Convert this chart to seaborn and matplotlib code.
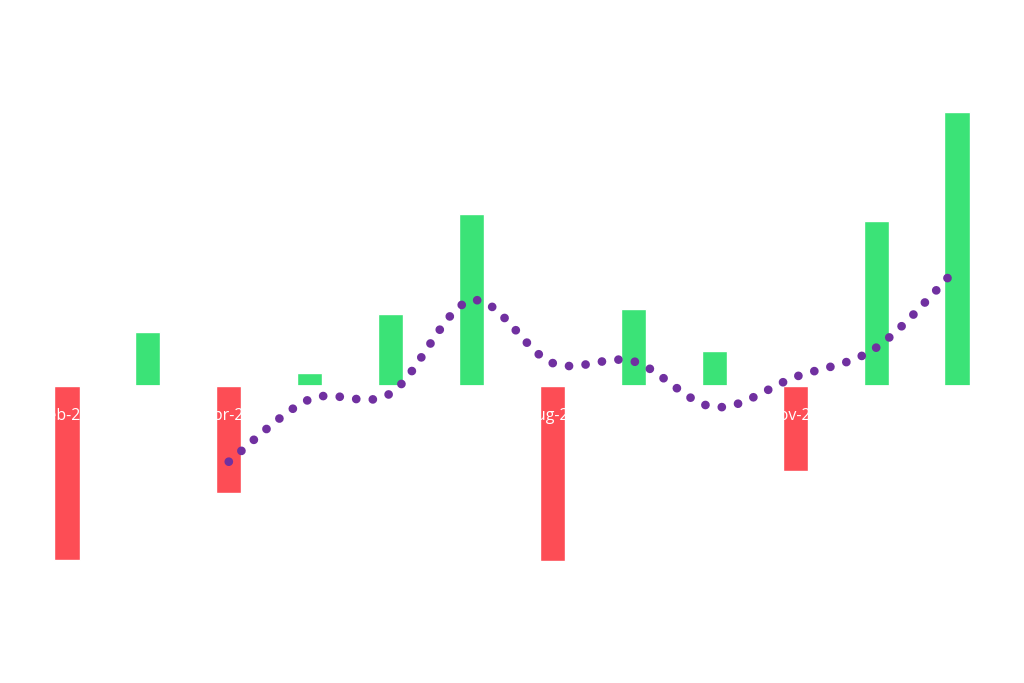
import numpy as np
import pandas as pd
import matplotlib
matplotlib.use("Agg")
import matplotlib.pyplot as plt
from matplotlib.path import Path
from matplotlib.patches import PathPatch
import seaborn as sns

# ---- data ----
months = ["feb-23", "mar-23", "apr-23", "may-23", "jun-23", "jul-23",
          "aug-23", "sep-23", "oct-23", "nov-23", "dec-23", "jan-24"]
values = [-174, 54, -107, 13, 72, 172, -175, 77, 35, -85, 165, 274]
# 3-month moving average (trend line), starting at apr-23
trend_months = months[2:]
trend_values = [-75.7, -13.3, -7.3, 85.7, 23.0, 24.7, -21.0, 9.0, 38.3, 118.0]

POS_COLOR = "#3be377"
NEG_COLOR = "#fd4d55"
LINE_COLOR = "#7030a0"

df = pd.DataFrame({"month": months, "value": values})
df["sign"] = np.where(df["value"] >= 0, "pos", "neg")

sns.set_theme(style="white")
plt.rcParams["font.family"] = ["Open Sans", "DejaVu Sans"]

fig = plt.figure(figsize=(10.24, 6.83), dpi=100)
ax = fig.add_axes([26.5 / 1024, (683 - 636) / 683, 971 / 1024, 580 / 683])

sns.barplot(data=df, x="month", y="value", hue="sign",
            palette={"pos": POS_COLOR, "neg": NEG_COLOR}, saturation=1,
            dodge=False, width=0.31, legend=False, ax=ax, zorder=1)

ax.set_xlim(-0.5, len(months) - 0.5)
ax.set_ylim(-250, 330)

# smoothed trend line (Catmull-Rom -> cubic Bezier) through the trend points
xs = [months.index(m) for m in trend_months]
pts = np.column_stack([xs, trend_values]).astype(float)
n = len(pts)
verts = [pts[0]]
codes = [Path.MOVETO]
for i in range(n - 1):
    p0 = pts[i - 1] if i > 0 else pts[i]
    p1 = pts[i]
    p2 = pts[i + 1]
    p3 = pts[i + 2] if i + 2 < n else pts[i + 1]
    c1 = p1 + (p2 - p0) / 6.0
    c2 = p2 - (p3 - p1) / 6.0
    verts += [c1, c2, p2]
    codes += [Path.CURVE4] * 3
path = Path(verts, codes)
patch = PathPatch(path, facecolor="none", edgecolor=LINE_COLOR, lw=6.3,
                  linestyle=(0, (0.001, 1.9)), capstyle="round", zorder=3)
ax.add_patch(patch)

# axis styling: labels in white at the zero line, drawn above the bars
ax.set_axisbelow(False)
for s in ["top", "right", "left"]:
    ax.spines[s].set_visible(False)
ax.spines["bottom"].set_position(("data", 0))
ax.spines["bottom"].set_color("white")
ax.set_yticks([])
ax.set_xlabel("")
ax.set_ylabel("")
ax.tick_params(axis="x", length=0, pad=16, labelsize=11.5, labelcolor="white")
ax.xaxis.set_zorder(2)
ax.grid(False)
ax.set_facecolor("white")

fig.savefig("out.png", dpi=100, facecolor="white")
